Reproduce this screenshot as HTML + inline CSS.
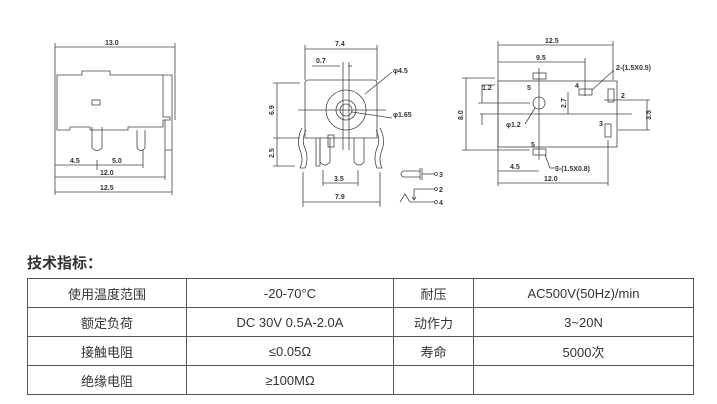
<!DOCTYPE html>
<html><head><meta charset="utf-8"><style>
html,body{margin:0;padding:0;background:#fff;width:717px;height:404px;overflow:hidden;position:relative}
svg{position:absolute;left:0;top:0}
.h{position:absolute;left:27px;top:252px;font:bold 15px "Liberation Sans","Noto Sans CJK SC",sans-serif;color:#333}
table{position:absolute;left:27px;top:278px;border-collapse:collapse;font:13px "Liberation Sans","Noto Sans CJK SC",sans-serif;color:#333}
td{border:1px solid #555;height:28px;padding:0;text-align:center}
</style></head><body>
<svg width="717" height="240" viewBox="0 0 717 240" font-family="Liberation Sans,sans-serif" font-size="7" font-weight="bold" fill="none" stroke="#444" stroke-width="0.8">
<!-- side view -->
<g>
<line x1="55" y1="47" x2="175" y2="47"/><line x1="55" y1="43" x2="55" y2="195"/><line x1="175" y1="43" x2="175" y2="120"/>
<text x="105" y="45" fill="#333" stroke="none">13.0</text>
<path d="M57 75 H82 V71 H110 V75 H163 V117 H170 V120 H163 V127 H128 V130 H90 V127 H70 V130 H57 Z"/>
<rect x="92" y="100" width="8" height="5"/>
<path d="M163 75 H172 V150 H165 V120"/>
<path d="M92 127 V148 Q97 153 102 148 V127"/><path d="M137 130 V148 Q141 153 145 148 V130"/>
<line x1="55" y1="165" x2="143" y2="165"/><line x1="97" y1="160" x2="97" y2="170"/><line x1="143" y1="150" x2="143" y2="168"/>
<text x="70" y="163" fill="#333" stroke="none">4.5</text><text x="112" y="163" fill="#333" stroke="none">5.0</text>
<line x1="55" y1="177" x2="165" y2="177"/><line x1="165" y1="150" x2="165" y2="180"/>
<text x="100" y="175" fill="#333" stroke="none">12.0</text>
<line x1="55" y1="192" x2="172" y2="192"/><line x1="172" y1="150" x2="172" y2="195"/>
<text x="100" y="190" fill="#333" stroke="none">12.5</text>
</g>
<!-- front view -->
<g>
<line x1="305" y1="49" x2="377" y2="49"/><line x1="305" y1="45" x2="305" y2="80"/><line x1="377" y1="45" x2="377" y2="80"/>
<text x="335" y="46" fill="#333" stroke="none">7.4</text>
<line x1="312" y1="66" x2="340" y2="66"/><line x1="348" y1="66" x2="352" y2="66"/>
<text x="316" y="63" fill="#333" stroke="none">0.7</text>
<line x1="343" y1="62" x2="343" y2="150"/><line x1="349" y1="62" x2="349" y2="150"/>
<path d="M308 80 H374 Q377 80 377 83 V138 H305 V83 Q305 80 308 80 Z"/>
<circle cx="346" cy="110" r="20"/><circle cx="346" cy="110" r="10"/><circle cx="346" cy="110" r="6"/>
<line x1="298" y1="110" x2="386" y2="110"/>
<line x1="365" y1="94" x2="392" y2="72"/><line x1="352" y1="112" x2="392" y2="118"/>
<text x="393" y="73" fill="#333" stroke="none">φ4.5</text><text x="393" y="117" fill="#333" stroke="none">φ1.65</text>
<line x1="277" y1="83" x2="277" y2="166"/><line x1="273" y1="83" x2="300" y2="83"/><line x1="273" y1="138" x2="300" y2="138"/><line x1="273" y1="166" x2="295" y2="166"/>
<text x="274" y="115" fill="#333" stroke="none" transform="rotate(-90 274 115)">6.9</text>
<text x="274" y="158" fill="#333" stroke="none" transform="rotate(-90 274 158)">2.5</text>
<path d="M302 128 Q296 140 300 150 Q304 160 300 168 H305 Q309 158 305 148 Q301 140 306 130"/>
<path d="M380 128 Q386 140 382 150 Q378 160 382 168 H377 Q373 158 377 148 Q381 140 376 130"/>
<path d="M316 138 V166 H320 V138"/><path d="M320 138 V162 Q325 168 330 162 V138"/><rect x="328" y="135" width="6" height="12"/>
<path d="M354 138 V162 Q359 168 364 162 V138"/>
<line x1="323" y1="170" x2="323" y2="186"/><line x1="358" y1="170" x2="358" y2="186"/><line x1="323" y1="183" x2="358" y2="183"/>
<text x="334" y="181" fill="#333" stroke="none">3.5</text>
<line x1="303" y1="172" x2="303" y2="207"/><line x1="380" y1="172" x2="380" y2="207"/><line x1="303" y1="202" x2="380" y2="202"/>
<text x="335" y="199" fill="#333" stroke="none">7.9</text>
<path d="M420 171 H403 Q399 174 403 177 H420"/><line x1="420" y1="168" x2="420" y2="180"/><line x1="422" y1="168" x2="422" y2="180"/>
<line x1="422" y1="174" x2="434" y2="174"/><circle cx="436" cy="174" r="1.5"/><text x="439" y="177" fill="#333" stroke="none">3</text>
<path d="M400 202 L405 194 L410 202"/><line x1="414" y1="189" x2="414" y2="200"/><path d="M412 197 L414 200 L416 197"/>
<line x1="414" y1="189" x2="434" y2="189"/><circle cx="436" cy="189" r="1.5"/><text x="439" y="192" fill="#333" stroke="none">2</text>
<line x1="410" y1="202" x2="434" y2="202"/><circle cx="436" cy="202" r="1.5"/><text x="439" y="205" fill="#333" stroke="none">4</text>
</g>
<!-- bottom view -->
<g>
<line x1="498" y1="45" x2="613" y2="45"/><line x1="498" y1="41" x2="498" y2="186"/><line x1="613" y1="41" x2="613" y2="80"/>
<text x="545" y="43" fill="#333" stroke="none">12.5</text>
<line x1="498" y1="62" x2="585" y2="62"/><line x1="585" y1="58" x2="585" y2="96"/>
<text x="536" y="60" fill="#333" stroke="none">9.5</text>
<rect x="498" y="81" width="119" height="66"/>
<line x1="539" y1="68" x2="539" y2="160"/><line x1="480" y1="114" x2="632" y2="114"/>
<circle cx="539" cy="103" r="6"/><line x1="478" y1="103" x2="530" y2="103"/><line x1="535" y1="108" x2="525" y2="124"/>
<text x="506" y="127" fill="#333" stroke="none">φ1.2</text>
<line x1="482" y1="85" x2="495" y2="85"/><line x1="482" y1="85" x2="482" y2="103"/><text x="482" y="90" fill="#333" stroke="none">1.2</text>
<line x1="482" y1="114" x2="482" y2="125"/>
<rect x="533" y="73" width="13" height="6"/><text x="527" y="90" fill="#333" stroke="none">5</text>
<rect x="533" y="149" width="13" height="6"/><text x="531" y="147" fill="#333" stroke="none">5</text>
<rect x="579" y="89" width="13" height="6"/><text x="575" y="88" fill="#333" stroke="none">4</text>
<line x1="568" y1="92" x2="568" y2="114"/><text x="566" y="108" fill="#333" stroke="none" transform="rotate(-90 566 108)">2.7</text>
<line x1="592" y1="90" x2="614" y2="70"/><text x="616" y="70" fill="#333" stroke="none">2-(1.5X0.5)</text>
<rect x="608" y="89" width="6" height="13"/><text x="621" y="98" fill="#333" stroke="none">2</text>
<rect x="605" y="124" width="6" height="13"/><text x="599" y="126" fill="#333" stroke="none">3</text>
<line x1="604" y1="100" x2="650" y2="100"/><line x1="618" y1="130" x2="650" y2="130"/><line x1="647" y1="100" x2="647" y2="130"/>
<text x="651" y="120" fill="#333" stroke="none" transform="rotate(-90 651 120)">3.5</text>
<line x1="466" y1="78" x2="466" y2="150"/><line x1="462" y1="78" x2="495" y2="78"/><line x1="462" y1="150" x2="530" y2="150"/>
<text x="463" y="120" fill="#333" stroke="none" transform="rotate(-90 463 120)">8.0</text>
<line x1="545" y1="155" x2="550" y2="168"/><line x1="550" y1="168" x2="556" y2="168"/><text x="555" y="171" fill="#333" stroke="none">3-(1.5X0.8)</text>
<line x1="498" y1="171" x2="539" y2="171"/><text x="510" y="169" fill="#333" stroke="none">4.5</text>
<line x1="498" y1="183" x2="608" y2="183"/><line x1="608" y1="140" x2="608" y2="186"/>
<text x="544" y="181" fill="#333" stroke="none">12.0</text>
</g>
</svg>
<div class="h">技术指标：</div>
<table>
<tr><td style="width:158px">使用温度范围</td><td style="width:206px">-20-70°C</td><td style="width:79px">耐压</td><td style="width:219px">AC500V(50Hz)/min</td></tr>
<tr><td>额定负荷</td><td>DC 30V 0.5A-2.0A</td><td>动作力</td><td>3~20N</td></tr>
<tr><td>接触电阻</td><td>≤0.05Ω</td><td>寿命</td><td>5000次</td></tr>
<tr><td>绝缘电阻</td><td>≥100MΩ</td><td></td><td></td></tr>
</table>
</body></html>
